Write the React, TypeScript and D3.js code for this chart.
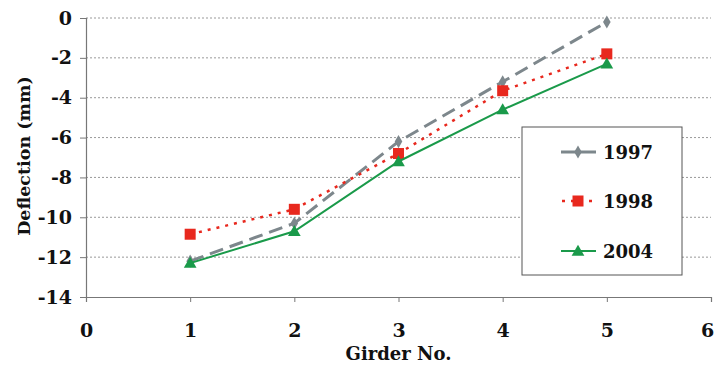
import React, { useEffect, useRef } from 'react';
import * as d3 from 'd3';

const girders = [1, 2, 3, 4, 5];
const d1997 = [-12.2, -10.3, -6.2, -3.2, -0.2];
const d1998 = [-10.85, -9.6, -6.8, -3.65, -1.8];
const d2004 = [-12.3, -10.7, -7.2, -4.6, -2.3];
const xTicks = [0, 1, 2, 3, 4, 5, 6];
const yTicks = [0, -2, -4, -6, -8, -10, -12, -14];

const series = [
  { name: '1997', values: d1997, color: '#7d878c', dash: '14,7', width: 3, marker: 'diamond' },
  { name: '1998', values: d1998, color: '#e8281e', dash: '3,6', width: 2.5, marker: 'square' },
  { name: '2004', values: d2004, color: '#1a9a4a', dash: null, width: 2, marker: 'triangle' },
];

const App = () => {
  const ref = useRef<SVGSVGElement>(null);

  useEffect(() => {
    const svg = d3.select(ref.current);
    svg.selectAll('*').remove();

    const left = 86, right = 711, top = 18, bottom = 297;
    const x = d3.scaleLinear().domain([0, 6]).range([left, right]);
    const y = d3.scaleLinear().domain([-14, 0]).range([bottom, top]);
    const font = 'DejaVu Serif, Liberation Serif, serif';

    // gridlines
    svg.append('g')
      .selectAll('line')
      .data(yTicks.filter(t => t !== -14))
      .join('line')
      .attr('x1', left).attr('x2', right)
      .attr('y1', d => y(d)).attr('y2', d => y(d))
      .attr('stroke', '#999').attr('stroke-width', 1)
      .attr('stroke-dasharray', '2,2');

    // y axis
    const yAxis = svg.append('g')
      .attr('transform', `translate(${left},0)`)
      .call(d3.axisLeft(y).tickValues(yTicks).tickSize(6).tickPadding(8).tickFormat(d => String(d)));
    yAxis.select('.domain').attr('stroke', '#777').attr('stroke-width', 1.2);
    yAxis.selectAll('.tick line').attr('stroke', '#777');
    yAxis.selectAll('text')
      .attr('font-family', font).attr('font-size', 19).attr('font-weight', 'bold').attr('fill', '#111');

    // x axis
    const xAxis = svg.append('g')
      .attr('transform', `translate(0,${bottom})`)
      .call(d3.axisBottom(x).tickValues(xTicks).tickSize(5).tickPadding(22).tickFormat(d => String(d)));
    xAxis.select('.domain').attr('stroke', '#777').attr('stroke-width', 1.2);
    xAxis.selectAll('.tick line').attr('stroke', '#777');
    xAxis.selectAll('text')
      .attr('font-family', font).attr('font-size', 19).attr('font-weight', 'bold').attr('fill', '#111');
    xAxis.selectAll('.tick:last-of-type text').attr('dx', -4);

    // titles
    svg.append('text')
      .attr('transform', `translate(30,156) rotate(-90)`)
      .attr('text-anchor', 'middle')
      .attr('font-family', font).attr('font-size', 17.5).attr('font-weight', 'bold')
      .attr('fill', '#111')
      .text('Deflection (mm)');

    svg.append('text')
      .attr('x', x(3)).attr('y', 360)
      .attr('text-anchor', 'middle')
      .attr('font-family', font).attr('font-size', 18).attr('font-weight', 'bold')
      .attr('fill', '#111')
      .text('Girder No.');

    const drawMarker = (g: any, kind: string, cx: number, cy: number, color: string) => {
      if (kind === 'diamond') {
        g.append('path').attr('d', d3.symbol(d3.symbolDiamond, 50)())
          .attr('transform', `translate(${cx},${cy})`).attr('fill', color);
      } else if (kind === 'square') {
        g.append('rect').attr('x', cx - 5.5).attr('y', cy - 5.5).attr('width', 11).attr('height', 11)
          .attr('fill', color);
      } else {
        g.append('path').attr('d', d3.symbol(d3.symbolTriangle, 70)())
          .attr('transform', `translate(${cx},${cy + 1})`).attr('fill', color);
      }
    };

    const line = d3.line<number>()
      .x((d, i) => x(girders[i]))
      .y(d => y(d));

    series.forEach(s => {
      const g = svg.append('g');
      g.append('path')
        .datum(s.values)
        .attr('d', line)
        .attr('fill', 'none')
        .attr('stroke', s.color)
        .attr('stroke-width', s.width)
        .attr('stroke-dasharray', s.dash);
      s.values.forEach((v, i) => drawMarker(g, s.marker, x(girders[i]), y(v), s.color));
    });

    // legend
    const lg = svg.append('g');
    lg.append('rect')
      .attr('x', 522).attr('y', 127).attr('width', 160).attr('height', 148)
      .attr('fill', '#fff').attr('stroke', '#555').attr('stroke-width', 1);
    const rows = [152, 201, 251];
    series.forEach((s, i) => {
      const cy = rows[i];
      lg.append('line')
        .attr('x1', s.marker === 'square' ? 562 : 561).attr('x2', 596).attr('y1', cy).attr('y2', cy)
        .attr('stroke', s.color).attr('stroke-width', s.width)
        .attr('stroke-dasharray', s.marker === 'square' ? '3,6' : null);
      drawMarker(lg, s.marker, 578, cy, s.color);
      lg.append('text')
        .attr('x', 603).attr('y', cy + 7)
        .attr('font-family', font).attr('font-size', 18).attr('font-weight', 'bold')
        .attr('fill', '#111')
        .text(s.name);
    });
  }, []);

  return (
    <svg ref={ref} width={716} height={366} style={{ position: 'absolute', left: 0, top: 0, background: '#fff' }} />
  );
};

export default App;
